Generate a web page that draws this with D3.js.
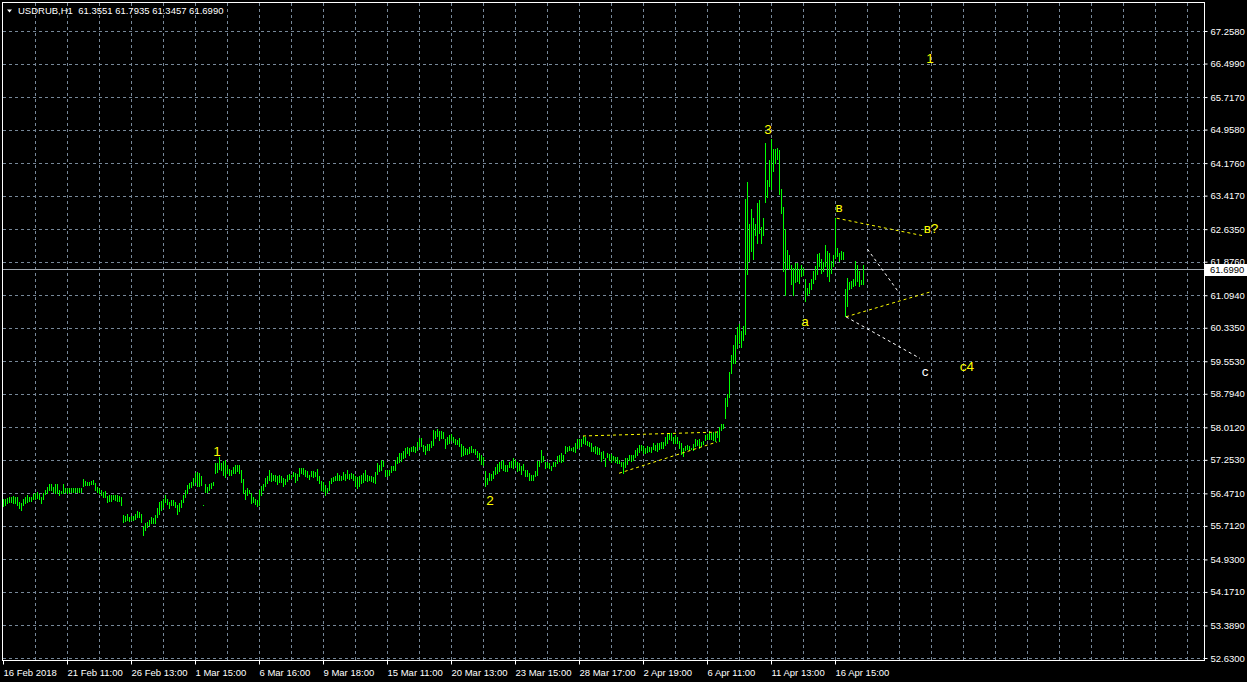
<!DOCTYPE html>
<html><head><meta charset="utf-8">
<script src="https://cdn.jsdelivr.net/npm/d3@7"></script>
<style>html,body{margin:0;padding:0;background:#000;overflow:hidden}</style>
</head><body><svg id="c" width="1247" height="682"></svg>
<script>
// ---- data (H1 bars, high / low) ----
const highs=[
56.35,56.35,56.37,56.38,56.39,56.41,56.38,56.38,56.28,56.25,
56.35,56.38,56.43,56.39,56.39,56.45,56.49,56.51,56.45,56.38,
56.49,56.56,56.63,56.70,56.69,56.63,56.68,56.69,56.56,56.53,
56.68,56.60,56.59,56.59,56.59,56.59,56.59,56.59,56.59,56.60,
56.80,56.77,56.74,56.74,56.76,56.78,56.72,56.63,56.60,56.55,
56.51,56.53,56.41,56.43,56.43,56.43,56.43,56.43,56.41,56.38,
55.96,55.94,56.00,55.91,55.94,55.94,55.99,56.06,56.03,55.99,
55.71,55.77,55.81,55.86,55.91,55.89,55.96,56.12,56.28,56.30,
56.33,56.43,56.35,56.28,56.31,56.31,56.28,56.20,56.25,56.31,
56.43,56.56,56.66,56.72,56.74,56.82,56.94,56.96,56.94,56.87,
56.20,56.70,56.63,56.69,56.72,56.74,57.17,57.19,57.31,57.17,
57.23,57.25,57.13,57.03,57.01,57.09,57.13,57.13,57.13,57.01,
56.80,56.55,56.59,56.56,56.47,56.39,56.35,56.31,56.56,56.65,
56.70,56.83,56.88,57.01,56.95,56.91,56.91,56.87,56.91,56.88,
56.83,56.81,56.91,56.93,56.91,56.96,56.95,56.93,57.06,57.06,
57.06,57.01,56.99,56.91,56.99,56.99,56.96,57.04,56.88,56.75,
56.73,56.67,56.60,56.75,56.83,56.85,56.88,56.95,56.91,56.88,
56.96,56.93,57.01,56.93,56.95,56.93,56.88,56.85,56.87,56.91,
56.95,57.01,56.91,56.87,56.87,56.85,56.96,57.18,57.14,57.26,
57.22,57.02,57.02,57.02,57.10,57.12,57.24,57.32,57.41,57.41,
57.45,57.53,57.55,57.53,57.55,57.57,57.55,57.66,57.76,57.76,
57.61,57.57,57.63,57.63,57.69,57.94,57.92,57.97,57.92,57.92,
57.90,57.74,57.79,57.84,57.86,57.79,57.74,57.72,57.76,57.63,
57.57,57.53,57.51,57.55,57.57,57.51,57.51,57.45,57.41,57.37,
57.32,56.99,56.83,56.95,56.93,56.99,57.09,57.16,57.20,57.22,
57.26,57.14,57.14,57.20,57.22,57.30,57.26,57.20,57.18,57.12,
57.16,57.02,57.01,56.95,56.91,56.91,56.99,57.22,57.22,57.48,
57.34,57.20,57.20,57.18,57.12,57.20,57.20,57.35,57.37,57.41,
57.37,57.58,57.55,57.57,57.54,57.56,57.64,57.73,57.75,57.73,
57.81,57.78,57.70,57.68,57.64,57.56,57.57,57.56,57.54,57.44,
57.47,57.29,57.42,57.40,57.40,57.34,57.33,57.33,57.26,57.21,
57.21,57.29,57.29,57.36,57.36,57.36,57.48,57.54,57.60,57.60,
57.57,57.54,57.57,57.56,57.56,57.64,57.60,57.65,57.64,57.68,
57.68,57.78,57.89,57.87,57.87,57.78,57.83,57.79,57.70,57.64,
57.54,57.57,57.60,57.57,57.54,57.62,57.73,57.71,57.73,57.68,
57.70,57.83,57.85,57.93,57.89,57.91,57.89,57.93,58.01,58.09,
58.09,58.69,58.80,59.31,59.70,59.93,60.16,60.35,60.42,60.25,
60.38,63.33,63.74,62.75,63.10,62.90,62.75,63.25,63.31,62.69,
62.90,64.64,63.78,64.25,64.73,64.50,64.51,64.54,64.48,63.57,
63.16,62.65,62.16,62.03,61.79,61.74,61.84,61.84,61.71,61.81,
61.74,61.48,61.27,61.39,61.48,61.66,61.78,62.05,62.07,61.93,
61.87,62.26,62.13,62.09,61.89,62.03,62.90,62.20,62.09,62.13,
62.10,61.23,61.50,61.40,61.43,61.48,61.89,61.81,61.66,61.45,
61.79];
const lows=[
56.18,56.21,56.24,56.28,56.28,56.24,56.25,56.21,56.12,56.08,
56.20,56.25,56.28,56.29,56.29,56.33,56.35,56.37,56.33,56.24,
56.33,56.45,56.49,56.56,56.55,56.51,56.49,56.47,56.43,56.47,
56.49,56.51,56.49,56.51,56.51,56.51,56.51,56.51,56.51,56.51,
56.64,56.66,56.66,56.66,56.68,56.68,56.56,56.51,56.47,56.43,
56.39,56.39,56.28,56.30,56.30,56.33,56.31,56.30,56.30,56.20,
55.81,55.83,55.85,55.83,55.85,55.85,55.88,55.92,55.91,55.81,
55.50,55.61,55.68,55.73,55.79,55.77,55.79,55.91,56.00,56.08,
56.16,56.28,56.22,56.14,56.20,56.20,56.16,56.00,56.07,56.16,
56.28,56.39,56.47,56.59,56.63,56.66,56.74,56.64,56.64,56.66,
56.19,56.51,56.51,56.55,56.59,56.66,56.94,56.98,57.05,57.01,
56.90,56.86,56.94,56.90,56.90,56.94,56.95,57.00,56.95,56.74,
56.47,56.35,56.43,56.47,56.24,56.28,56.22,56.17,56.20,56.44,
56.56,56.65,56.71,56.79,56.75,56.79,56.75,56.70,56.73,56.73,
56.65,56.70,56.75,56.81,56.83,56.87,56.73,56.79,56.87,56.95,
56.93,56.87,56.85,56.81,56.87,56.85,56.87,56.79,56.71,56.54,
56.52,56.44,56.50,56.56,56.71,56.75,56.78,56.79,56.78,56.79,
56.81,56.78,56.83,56.81,56.83,56.79,56.65,56.60,56.65,56.71,
56.73,56.79,56.75,56.78,56.75,56.73,56.71,56.93,56.99,57.02,
57.10,56.88,56.87,56.91,56.96,57.01,57.02,57.18,57.20,57.22,
57.30,57.32,57.41,57.37,57.45,57.45,57.43,57.49,57.58,57.57,
57.45,57.40,57.48,57.48,57.55,57.61,57.76,57.80,57.72,57.76,
57.76,57.53,57.63,57.65,57.71,57.66,57.63,57.63,57.58,57.35,
57.37,57.40,57.40,57.41,57.43,57.43,57.40,57.32,57.26,57.16,
57.14,56.64,56.70,56.78,56.79,56.83,56.93,56.95,56.99,57.06,
57.01,56.99,56.99,57.09,57.09,57.06,57.14,56.99,57.02,56.93,
57.02,56.87,56.88,56.78,56.78,56.78,56.87,56.91,57.10,57.20,
57.22,57.06,57.09,57.06,57.02,57.10,57.10,57.18,57.22,57.20,
57.22,57.41,57.45,57.49,57.48,57.47,57.44,57.54,57.56,57.57,
57.65,57.62,57.60,57.57,57.47,57.47,57.42,57.40,57.39,57.23,
57.29,57.11,57.33,57.25,57.21,57.25,57.21,57.19,57.17,57.11,
56.94,57.08,57.15,57.25,57.23,57.26,57.33,57.36,57.44,57.48,
57.42,57.42,57.44,57.47,57.44,57.50,57.48,57.47,57.50,57.54,
57.52,57.60,57.65,57.75,57.71,57.64,57.64,57.64,57.54,57.40,
57.34,57.48,57.50,57.48,57.50,57.48,57.57,57.60,57.54,57.57,
57.62,57.71,57.73,57.75,57.73,57.71,57.70,57.78,57.70,57.95,
57.99,58.24,58.51,58.73,59.29,59.52,59.52,59.86,59.98,59.89,
60.05,60.20,61.58,61.89,62.13,61.93,62.51,62.32,62.55,62.32,
62.51,63.27,63.39,63.64,63.57,63.99,64.19,64.27,63.45,63.01,
61.66,61.11,61.74,61.70,61.35,61.11,61.40,61.43,61.39,61.54,
61.56,60.96,61.11,61.15,61.23,61.39,61.47,61.58,61.78,61.62,
61.66,61.78,61.54,61.43,61.61,61.78,61.97,62.01,61.89,61.93,
61.93,60.61,60.84,61.25,61.27,61.31,61.33,61.43,61.31,61.35,
61.35];
const priceTicks=[67.258,66.499,65.717,64.958,64.176,63.417,62.635,61.876,61.094,60.335,
  59.553,58.794,58.012,57.253,56.471,55.712,54.930,54.171,53.389,52.630];
const timeLabels=["16 Feb 2018","21 Feb 11:00","26 Feb 13:00","1 Mar 15:00","6 Mar 16:00",
  "9 Mar 18:00","15 Mar 11:00","20 Mar 13:00","23 Mar 15:00","28 Mar 17:00","2 Apr 19:00",
  "6 Apr 11:00","11 Apr 13:00","16 Apr 15:00"];
const barsPerLabel=32;
const barsPerGrid=16;
const lastPrice=61.699;
const headerText="USDRUB,H1  61.3551 61.7935 61.3457 61.6990";
// wave labels: text, bar index, price
const waveLabels=[["1",107,57.46],["2",243.5,56.32],["3",382.5,64.97],["a",401,60.49],
  ["в",418,63.15],["в?",464,62.65],["c",461,59.33],["c4",482,59.44],["1",463.5,66.63]];
// trend lines: [bar1, price1, bar2, price2]
const yellowLines=[[290,57.81,357,57.90],[308,56.94,357,57.67],[416.9,62.89,460.2,62.48],[421.5,60.59,464.3,61.18]];
const whiteLines=[[432.2,62.17,448.2,61.14],[421.5,60.59,458.5,59.62]];

// ---- drawing ----
const svg=d3.select("#c");
const x=d3.scaleLinear().domain([0,600]).range([3,1203]);
const y=d3.scaleLinear().domain([52.63,67.258]).range([658,31]);
const FONT="'Liberation Sans', Arial, sans-serif";
const GRID="#778899";

svg.append("rect").attr("width",1247).attr("height",682).attr("fill","#000");

// grid
const g=svg.append("g").attr("stroke",GRID).attr("stroke-dasharray","3,3").attr("shape-rendering","crispEdges");
priceTicks.forEach(t=>{
  const yy=Math.round(y(t))+0.5;
  g.append("line").attr("x1",3).attr("x2",1204).attr("y1",yy).attr("y2",yy);
});
for(let b=barsPerGrid;x(b)<1204;b+=barsPerGrid){
  const xx=Math.round(x(b))+0.5;
  g.append("line").attr("x1",xx).attr("x2",xx).attr("y1",3).attr("y2",660);
}

// current price line
const ly=Math.round(y(lastPrice))+0.5;
svg.append("line").attr("x1",3).attr("x2",1204).attr("y1",ly).attr("y2",ly)
  .attr("stroke","#a0a8b0").attr("shape-rendering","crispEdges");

// bars
svg.append("g").attr("fill","#00ff00").attr("shape-rendering","crispEdges")
  .selectAll("rect").data(highs.map((h,i)=>({i,h,l:lows[i]}))).join("rect")
  .attr("x",d=>Math.round(x(d.i)))
  .attr("width",1)
  .attr("y",d=>Math.round(y(d.h)))
  .attr("height",d=>Math.max(1,Math.round(y(d.l))-Math.round(y(d.h))+1));

// trend lines
function tl(arr,color){
  svg.append("g").attr("stroke",color).attr("stroke-dasharray","3,3").attr("fill","none")
   .selectAll("line").data(arr).join("line")
   .attr("x1",d=>x(d[0])).attr("y1",d=>y(d[1])).attr("x2",d=>x(d[2])).attr("y2",d=>y(d[3]));
}
tl(yellowLines,"#ffff00");
tl(whiteLines,"#ffffff");

// wave labels
svg.append("g").selectAll("text").data(waveLabels).join("text")
  .attr("x",d=>x(d[1])).attr("y",d=>y(d[2])).attr("dy","0.36em")
  .attr("text-anchor","middle").attr("font-family",FONT).attr("font-size",13.5)
  .attr("fill",d=>d[0]==="c"?"#ffffff":"#ffff00").text(d=>d[0]);

// frame
svg.append("rect").attr("x",2.5).attr("y",2.5).attr("width",1202).attr("height",658)
  .attr("fill","none").attr("stroke","#fff").attr("shape-rendering","crispEdges");

// right axis
const ay=svg.append("g").attr("transform","translate(1204.5,0)")
  .call(d3.axisRight(y).tickValues(priceTicks).tickFormat(d3.format(".4f")).tickSize(3).tickPadding(3));
ay.select(".domain").remove();
ay.selectAll("line").attr("stroke","#fff");
ay.selectAll("text").attr("fill","#fff").attr("font-family",FONT).attr("font-size",9.5);

// bottom axis
const tv=timeLabels.map((_,i)=>i*barsPerLabel);
const ax=svg.append("g").attr("transform","translate(0,660.5)")
  .call(d3.axisBottom(x).tickValues(tv).tickFormat((d,i)=>timeLabels[i]).tickSize(4).tickPadding(5));
ax.select(".domain").remove();
ax.selectAll("line").attr("stroke","#fff");
ax.selectAll("text").attr("fill","#fff").attr("font-family",FONT).attr("font-size",9.5)
  .attr("text-anchor","start").attr("dx",0);

// last price box
svg.append("rect").attr("x",1205).attr("y",Math.round(y(lastPrice))-5).attr("width",42).attr("height",12).attr("fill","#fff");
svg.append("text").attr("x",1210).attr("y",y(lastPrice)).attr("dy","0.34em").attr("fill","#000")
  .attr("font-family",FONT).attr("font-size",9.5).text(d3.format(".4f")(lastPrice));

// header
svg.append("path").attr("d","M7,9.5 L12,9.5 L9.5,12.5 Z").attr("fill","#fff");
svg.append("text").attr("x",18).attr("y",14).attr("fill","#fff").attr("font-family",FONT)
  .attr("font-size",9.5).style("white-space","pre").text(headerText);
</script></body></html>
